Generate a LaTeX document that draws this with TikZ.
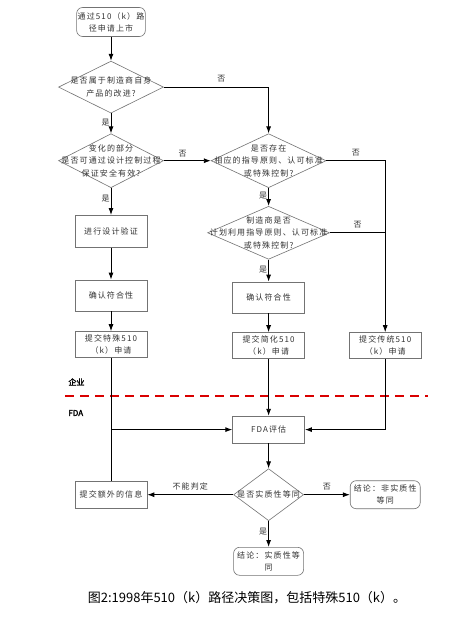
\documentclass[tikz,border=0pt]{standalone}
\usepackage{fontspec}
\setmainfont{Noto Sans CJK SC}
\newfontfamily\dfont[LetterSpace=14]{Noto Sans CJK SC}
\newfontfamily\dbold[FakeBold=2.5]{Noto Sans CJK SC}
\usetikzlibrary{arrows.meta}
\usetikzlibrary{positioning}
\usetikzlibrary{shapes.geometric}

\newcommand{\dtext}[1]{\smash{\raisebox{-0.3em}{\makebox[0pt]{\begin{tabular}{@{}c@{}}#1\end{tabular}}}}}

\begin{document}
\begin{tikzpicture}[
					x=1bp, y=1bp,
					line width=0.9bp,
					node distance=20bp,
					arrow/.style={-{Latex[length=7bp,width=5bp]}},
					box/.style={draw=black!55, line width=0.6bp, minimum width=72bp, minimum height=30bp, align=center, inner sep=1bp, text=black!80, font=\dfont\fontsize{8bp}{12bp}\selectfont},
					endbox/.style={box, rounded corners=6bp, minimum width=70bp, minimum height=28bp},
					decision/.style={diamond, draw=black!55, line width=0.6bp, inner sep=0pt, text=black!80, font=\dfont\fontsize{8bp}{12.5bp}\selectfont},
					tag/.style={inner sep=1bp, text=black!80, font=\dfont\fontsize{8bp}{10bp}\selectfont},
					side/.style={inner sep=1bp, anchor=west, font=\dbold\fontsize{8bp}{10bp}\selectfont},
				]
					\path[fill=white, use as bounding box] (0,0) rectangle (476,-622);
					
					\node (start) [endbox, minimum width=66bp, minimum height=29bp] at (111,-22) {通过510（k）路\\径申请上市};
					\node (isimp) [decision, minimum width=105bp, minimum height=52bp, below=24bp of start] {\dtext{是否属于制造商自身\\产品的改进?}};
					\node (byctrl) [decision, minimum width=105bp, minimum height=54bp, below=20bp of isimp] {\dtext{变化的部分\\是否可通过设计控制过程\\保证安全有效?}};
					\node (hasgd) [decision, minimum width=115bp, minimum height=54bp, right=47bp of byctrl] {\dtext{是否存在\\相应的指导原则、认可标准\\或特殊控制?}};
					\node (usegd) [decision, minimum width=122bp, minimum height=53bp, below=18bp of hasgd] {\dtext{制造商是否\\计划利用指导原则、认可标准\\或特殊控制?}};
					
					\node (verify) [box, minimum height=32bp, below=27bp of byctrl] {进行设计验证};
					\node (confl) [box, minimum height=31bp, below=32bp of verify] {确认符合性};
					\node (special) [box, minimum height=26bp, below=20bp of confl] {提交特殊510\\（k）申请};
					\node (confm) [box, minimum height=31bp, below=22bp of usegd] {确认符合性};
					\node (abbrev) [box, minimum height=26bp, below=19bp of confm] {提交简化510\\（k）申请};
					\node (trad) [box, minimum height=26bp, right=44bp of abbrev] {提交传统510\\（k）申请};
					
					\node (fda) [box, minimum height=27bp, below=57bp of abbrev] {FDA评估};
					\node (equiv) [decision, minimum width=70bp, minimum height=52bp, below=25bp of fda] {\dtext{是否实质性等同}};
					\node (extra) [box, minimum height=27bp, left=86bp of equiv] {提交额外的信息};
					\node (noneq) [endbox, right=46bp of equiv] {结论：非实质性\\等同};
					\node (yeseq) [endbox, below=26bp of equiv] {结论：实质性等\\同};
					
					\node (ent) [side] at (67,-382) {企业};
					\node (fdal) [side] at (67,-413) {FDA};
					\coordinate (split-l) at (65,-396);
					\coordinate (split-r) at (428,-396);
					\draw[red!85!black, line width=1.3bp, dash pattern=on 9bp off 6bp] (split-l) -- (split-r);
					
					\node (caption) [font=\fontsize{13bp}{15bp}\selectfont] at (247,-598) {图2:1998年510（k）路径决策图，包括特殊510（k）。};
					
					\draw[arrow] (start) -- (isimp);
					\draw[arrow] (isimp) -- node[tag, left, pos=0.45] {是} (byctrl);
					\draw[arrow] (isimp.east) -- node[tag, above=4bp, pos=0.55] {否} (isimp.east-|hasgd.north) -- (hasgd.north);
					\draw[arrow] (byctrl) -- node[tag, above=2bp, pos=0.4] {否} (hasgd);
					\draw[arrow] (byctrl) -- node[tag, left, pos=0.38] {是} (verify);
					\draw[arrow] (verify) -- (confl);
					\draw[arrow] (confl) -- (special);
					\draw[arrow] (hasgd) -- node[tag, left, pos=0.45] {是} (usegd);
					\draw[arrow] (hasgd.east) -- node[tag, above=3bp] {否} (hasgd.east-|trad.north) -- (trad.north);
					\draw (usegd.east) -- node[tag, above=3bp] {否} (usegd.east-|trad.north);
					\draw[arrow] (usegd) -- node[tag, left, pos=0.45] {是} (confm);
					\draw[arrow] (confm) -- (abbrev);
					\draw[arrow] (abbrev) -- (fda);
					\draw[arrow] (trad.south) -- (trad.south|-fda.east) -- (fda.east);
					\draw (special.south) -- (extra.north);
					\coordinate (join) at (special.south|-fda.west);
					\draw[arrow] (join) -- (fda.west);
					\draw[arrow] (fda) -- (equiv);
					\draw[arrow] (equiv) -- node[tag, above=3bp] {不能判定} (extra);
					\draw[arrow] (equiv) -- node[tag, above=3bp] {否} (noneq);
					\draw[arrow] (equiv) -- node[tag, left, pos=0.4] {是} (yeseq);
				\end{tikzpicture}
\end{document}
